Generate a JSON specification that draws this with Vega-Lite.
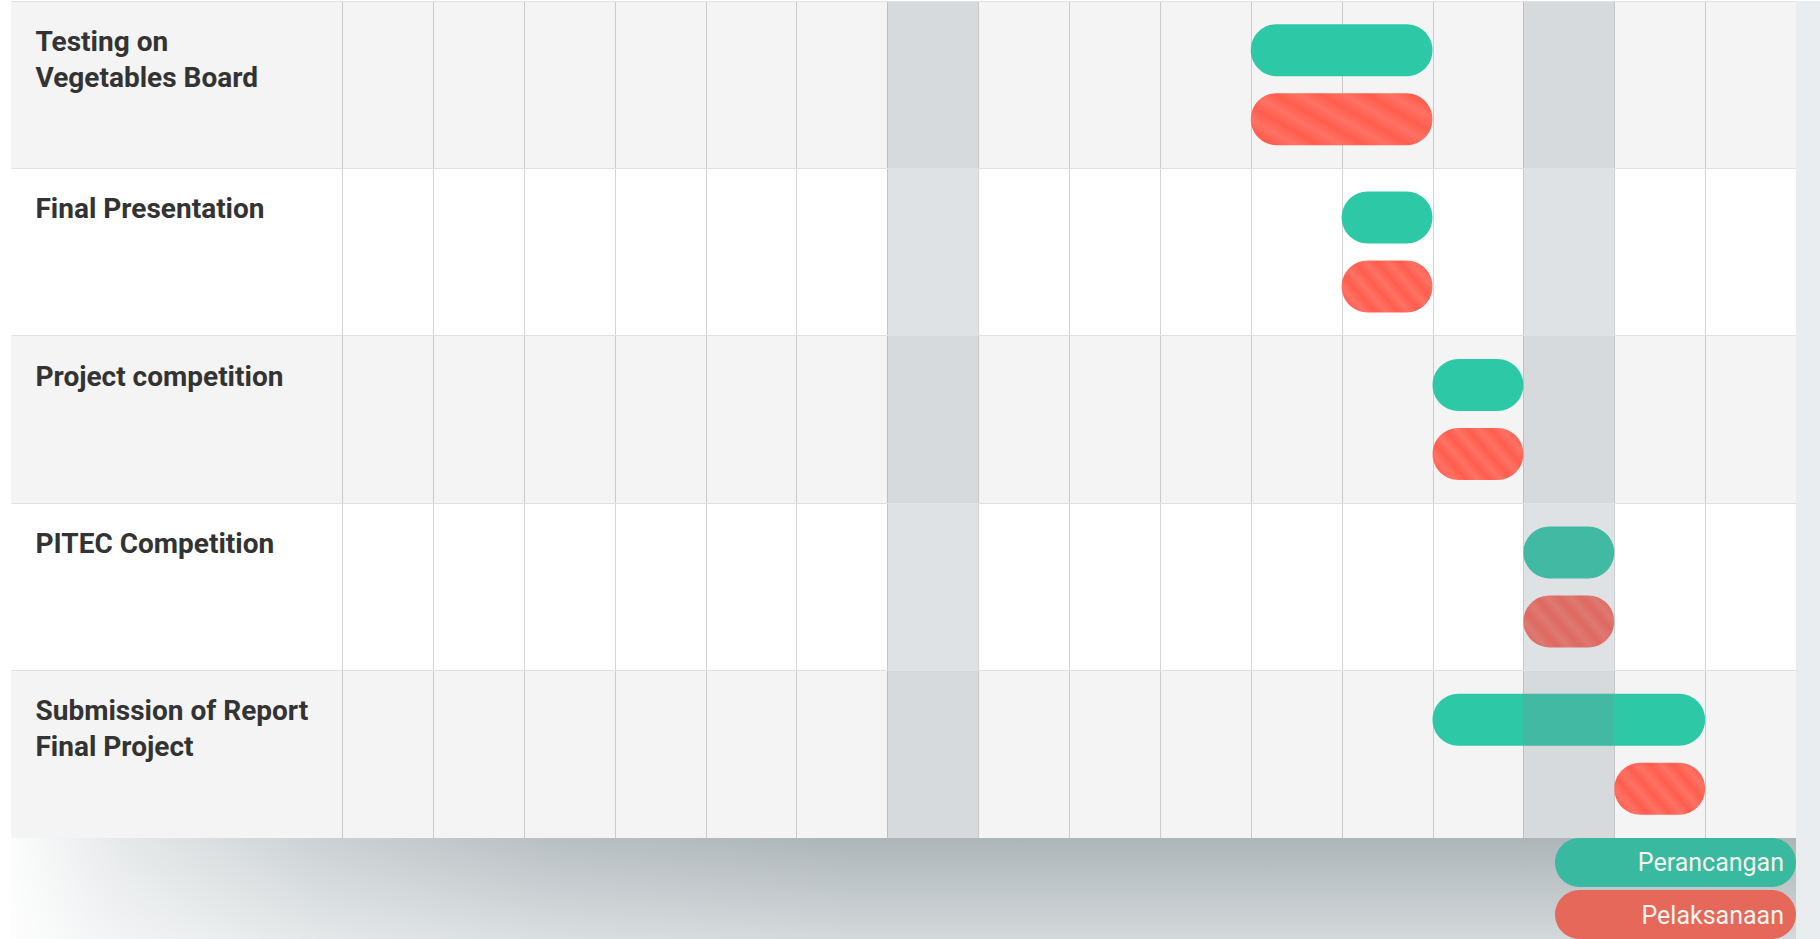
{
  "$schema": "https://vega.github.io/schema/vega-lite/v6.json",
  "background": "#ffffff",
  "padding": {"left": 11, "top": 1, "right": 0, "bottom": 0},
  "config": {
    "view": {"stroke": null},
    "concat": {"spacing": 0},
    "axis": {"domain": false, "ticks": false, "labels": false, "grid": true, "gridWidth": 1},
    "axisX": {"tickCount": 16, "gridColor": "#d4d4d4"},
    "axisY": {"bandPosition": 0, "gridColor": "#e1e1e1"}
  },
  "datasets": {
    "tasks": [
      {"task": "Testing on\nVegetables Board"},
      {"task": "Final Presentation"},
      {"task": "Project competition"},
      {"task": "PITEC Competition"},
      {"task": "Submission of Report\nFinal Project"}
    ],
    "plan": [
      {"task": "Testing on\nVegetables Board", "type": "Perancangan", "start": 10, "end": 12},
      {"task": "Testing on\nVegetables Board", "type": "Pelaksanaan", "start": 10, "end": 12},
      {"task": "Final Presentation", "type": "Perancangan", "start": 11, "end": 12},
      {"task": "Final Presentation", "type": "Pelaksanaan", "start": 11, "end": 12},
      {"task": "Project competition", "type": "Perancangan", "start": 12, "end": 13},
      {"task": "Project competition", "type": "Pelaksanaan", "start": 12, "end": 13},
      {"task": "PITEC Competition", "type": "Perancangan", "start": 13, "end": 14},
      {"task": "PITEC Competition", "type": "Pelaksanaan", "start": 13, "end": 14},
      {"task": "Submission of Report\nFinal Project", "type": "Perancangan", "start": 12, "end": 15},
      {"task": "Submission of Report\nFinal Project", "type": "Pelaksanaan", "start": 14, "end": 15}
    ],
    "weeks": [
      {"week": 7, "start": 6, "end": 7},
      {"week": 14, "start": 13, "end": 14}
    ],
    "legend": [
      {"type": "Perancangan"},
      {"type": "Pelaksanaan"}
    ]
  },
  "spacing": 0,
  "hconcat": [
    {
      "spacing": 0,
      "vconcat": [
        {
          "spacing": 0,
          "bounds": "flush",
          "hconcat": [
            {
              "width": 331,
              "height": 837,
              "data": {"name": "tasks"},
              "transform": [{"window": [{"op": "row_number", "as": "rn"}]}],
              "mark": {"type": "rect", "color": "#000000"},
              "encoding": {
                "y": {
                  "field": "task", "type": "nominal", "sort": null, "title": null,
                  "scale": {"domain": ["Testing on\nVegetables Board", "Final Presentation", "Project competition", "PITEC Competition", "Submission of Report\nFinal Project"], "paddingInner": 0, "paddingOuter": 0},
                  "axis": {
                    "labels": true, "labelAlign": "left", "labelBaseline": "top",
                    "labelPadding": -24, "labelOffset": -56,
                    "labelFont": "Roboto", "labelFontWeight": "bold", "labelFontSize": 28,
                    "labelColor": "#333333", "labelLineHeight": 36, "labelLimit": 330,
                    "labelExpr": "split(datum.label, '\\n')"
                  }
                },
                "opacity": {"condition": {"test": "datum.rn % 2 == 1", "value": 0.045}, "value": 0}
              }
            },
            {
              "width": 1454,
              "height": 837,
              "layer": [
                {
                  "data": {"name": "tasks"},
                  "transform": [{"window": [{"op": "row_number", "as": "rn"}]}],
                  "mark": {"type": "rect", "color": "#000000"},
                  "encoding": {
                    "y": {
                      "field": "task", "type": "nominal", "sort": null, "title": null,
                      "scale": {"domain": ["Testing on\nVegetables Board", "Final Presentation", "Project competition", "PITEC Competition", "Submission of Report\nFinal Project"], "paddingInner": 0, "paddingOuter": 0}
                    },
                    "opacity": {"condition": {"test": "datum.rn % 2 == 1", "value": 0.045}, "value": 0}
                  }
                },
                {
                  "data": {"name": "plan"},
                  "transform": [{"filter": "datum.type == 'Perancangan'"}],
                  "mark": {"type": "bar", "cornerRadius": 26, "color": "#2dc9a7"},
                  "encoding": {
                    "x": {"field": "start", "type": "quantitative", "title": null, "scale": {"domain": [0, 16], "nice": false, "zero": false}},
                    "x2": {"field": "end"},
                    "y": {"field": "task", "type": "nominal", "sort": null, "title": null},
                    "yOffset": {"field": "type", "type": "nominal", "scale": {"domain": ["Perancangan", "Pelaksanaan"], "paddingInner": 0.246, "paddingOuter": 0.336}}
                  }
                },
                {
                  "data": {"name": "plan"},
                  "transform": [{"filter": "datum.type == 'Pelaksanaan'"}],
                  "mark": {
                    "type": "bar", "cornerRadius": 26,
                    "color": {
                      "gradient": "linear", "x1": 0, "y1": 0.75, "x2": 1, "y2": 0.25,
                      "stops": [
                        {"offset": 0, "color": "#ff5d4d"},
                        {"offset": 0.1, "color": "#ff7264"},
                        {"offset": 0.2, "color": "#ff5d4d"},
                        {"offset": 0.3, "color": "#ff7264"},
                        {"offset": 0.4, "color": "#ff5d4d"},
                        {"offset": 0.5, "color": "#ff7264"},
                        {"offset": 0.6, "color": "#ff5d4d"},
                        {"offset": 0.7, "color": "#ff7264"},
                        {"offset": 0.8, "color": "#ff5d4d"},
                        {"offset": 0.9, "color": "#ff7264"},
                        {"offset": 1, "color": "#ff5d4d"}
                      ]
                    }
                  },
                  "encoding": {
                    "x": {"field": "start", "type": "quantitative", "title": null},
                    "x2": {"field": "end"},
                    "y": {"field": "task", "type": "nominal", "sort": null, "title": null},
                    "yOffset": {"field": "type", "type": "nominal"}
                  }
                },
                {
                  "data": {"name": "weeks"},
                  "mark": {"type": "rect", "color": "#7f8e99", "opacity": 0.26},
                  "encoding": {
                    "x": {"field": "start", "type": "quantitative", "title": null},
                    "x2": {"field": "end"}
                  }
                }
              ]
            }
          ]
        },
        {
          "spacing": 0,
          "bounds": "flush",
          "hconcat": [
            {
              "width": 1544,
              "height": 101,
              "data": {"values": [{"part": "table shadow"}]},
              "layer": [
                {
                  "mark": {
                    "type": "rect",
                    "color": {"gradient": "linear", "x1": 0, "y1": 0, "x2": 0, "y2": 1,
                      "stops": [{"offset": 0, "color": "#acb5b8"}, {"offset": 1, "color": "#d4d9db"}]}
                  },
                  "encoding": {}
                },
                {
                  "mark": {
                    "type": "rect",
                    "color": {"gradient": "linear", "x1": 0, "y1": 0, "x2": 1, "y2": 0,
                      "stops": [
                        {"offset": 0, "color": "rgba(255,255,255,0.96)"},
                        {"offset": 0.07, "color": "rgba(255,255,255,0.7)"},
                        {"offset": 0.2, "color": "rgba(255,255,255,0.38)"},
                        {"offset": 0.35, "color": "rgba(255,255,255,0.14)"},
                        {"offset": 0.55, "color": "rgba(255,255,255,0)"},
                        {"offset": 1, "color": "rgba(255,255,255,0)"}
                      ]}
                  },
                  "encoding": {}
                }
              ]
            },
            {
              "width": 241,
              "height": 101,
              "layer": [
                {
                  "data": {"values": [{"part": "table shadow"}]},
                  "mark": {
                    "type": "rect",
                    "color": {"gradient": "linear", "x1": 0, "y1": 0, "x2": 0, "y2": 1,
                      "stops": [{"offset": 0, "color": "#acb5b8"}, {"offset": 1, "color": "#d4d9db"}]}
                  },
                  "encoding": {}
                },
                {
                  "data": {"name": "legend"},
                  "mark": {"type": "rect", "cornerRadius": 25},
                  "encoding": {
                    "y": {"field": "type", "type": "nominal", "sort": null, "axis": null, "scale": {"paddingInner": 0.06, "paddingOuter": 0}},
                    "color": {"field": "type", "type": "nominal", "legend": null, "scale": {"domain": ["Perancangan", "Pelaksanaan"], "range": ["#39b99f", "#e5685b"]}}
                  }
                },
                {
                  "data": {"name": "legend"},
                  "mark": {"type": "text", "align": "right", "baseline": "middle", "dx": -12, "dy": 1, "font": "Roboto", "fontSize": 25, "fontWeight": "normal", "color": "#f4f4ee"},
                  "encoding": {
                    "y": {"field": "type", "type": "nominal", "sort": null, "axis": null},
                    "x": {"value": "width"},
                    "text": {"field": "type"}
                  }
                }
              ]
            }
          ]
        }
      ]
    },
    {
      "width": 24,
      "height": 938,
      "data": {"values": [{"part": "right edge shadow"}]},
      "mark": {"type": "rect", "color": "#eaedef"},
      "encoding": {}
    }
  ]
}
